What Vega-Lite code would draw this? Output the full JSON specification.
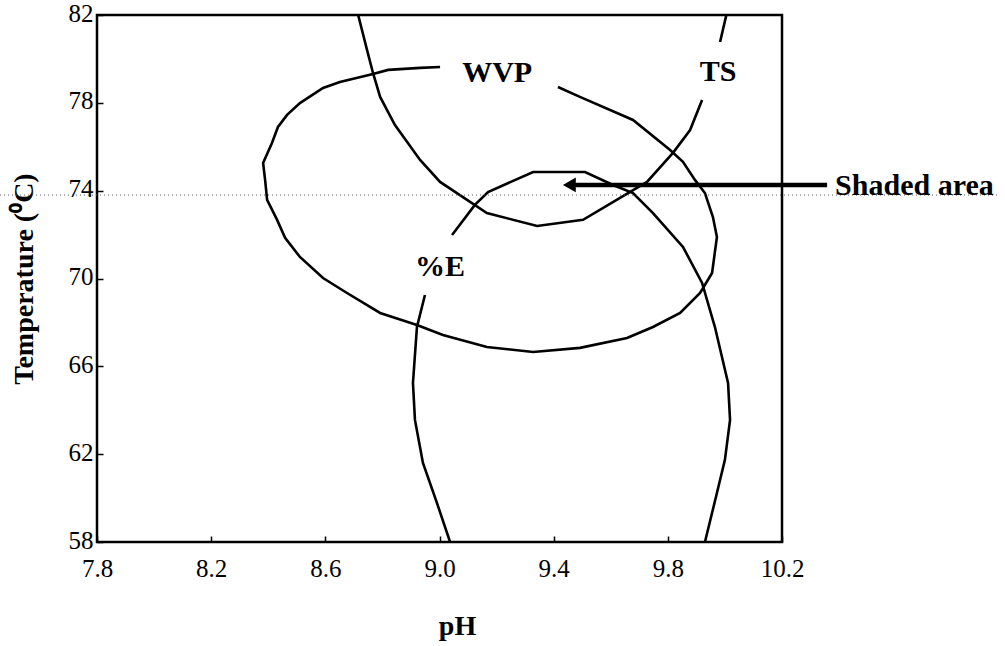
{
  "$schema": "https://vega.github.io/schema/vega-lite/v6.json",
  "width": 685,
  "height": 527,
  "autosize": "none",
  "padding": {"left": 97, "top": 15, "right": 223, "bottom": 104},
  "background": "white",
  "config": {
    "view": {"stroke": "black", "strokeWidth": 2.5},
    "font": "Liberation Serif"
  },
  "datasets": {
    "curves": [
      {"curve": "WVP", "seg": "WVP", "ord": 1, "pH": 9.002, "T": 79.63},
      {"curve": "WVP", "seg": "WVP", "ord": 2, "pH": 8.932, "T": 79.59},
      {"curve": "WVP", "seg": "WVP", "ord": 3, "pH": 8.82, "T": 79.5},
      {"curve": "WVP", "seg": "WVP", "ord": 4, "pH": 8.767, "T": 79.31},
      {"curve": "WVP", "seg": "WVP", "ord": 5, "pH": 8.651, "T": 78.95},
      {"curve": "WVP", "seg": "WVP", "ord": 6, "pH": 8.592, "T": 78.68},
      {"curve": "WVP", "seg": "WVP", "ord": 7, "pH": 8.511, "T": 77.99},
      {"curve": "WVP", "seg": "WVP", "ord": 8, "pH": 8.466, "T": 77.45},
      {"curve": "WVP", "seg": "WVP", "ord": 9, "pH": 8.434, "T": 76.9},
      {"curve": "WVP", "seg": "WVP", "ord": 10, "pH": 8.413, "T": 76.17},
      {"curve": "WVP", "seg": "WVP", "ord": 11, "pH": 8.382, "T": 75.26},
      {"curve": "WVP", "seg": "WVP", "ord": 12, "pH": 8.389, "T": 74.49},
      {"curve": "WVP", "seg": "WVP", "ord": 13, "pH": 8.396, "T": 73.58},
      {"curve": "WVP", "seg": "WVP", "ord": 14, "pH": 8.431, "T": 72.67},
      {"curve": "WVP", "seg": "WVP", "ord": 15, "pH": 8.459, "T": 71.85},
      {"curve": "WVP", "seg": "WVP", "ord": 16, "pH": 8.511, "T": 70.98},
      {"curve": "WVP", "seg": "WVP", "ord": 17, "pH": 8.592, "T": 70.02},
      {"curve": "WVP", "seg": "WVP", "ord": 18, "pH": 8.676, "T": 69.34},
      {"curve": "WVP", "seg": "WVP", "ord": 19, "pH": 8.792, "T": 68.43},
      {"curve": "WVP", "seg": "WVP", "ord": 20, "pH": 8.921, "T": 67.88},
      {"curve": "WVP", "seg": "WVP", "ord": 21, "pH": 9.012, "T": 67.43},
      {"curve": "WVP", "seg": "WVP", "ord": 22, "pH": 9.166, "T": 66.88},
      {"curve": "WVP", "seg": "WVP", "ord": 23, "pH": 9.328, "T": 66.65},
      {"curve": "WVP", "seg": "WVP", "ord": 24, "pH": 9.492, "T": 66.84},
      {"curve": "WVP", "seg": "WVP", "ord": 25, "pH": 9.657, "T": 67.29},
      {"curve": "WVP", "seg": "WVP", "ord": 26, "pH": 9.748, "T": 67.79},
      {"curve": "WVP", "seg": "WVP", "ord": 27, "pH": 9.843, "T": 68.43},
      {"curve": "WVP", "seg": "WVP", "ord": 28, "pH": 9.913, "T": 69.34},
      {"curve": "WVP", "seg": "WVP", "ord": 29, "pH": 9.955, "T": 70.25},
      {"curve": "WVP", "seg": "WVP", "ord": 30, "pH": 9.972, "T": 71.89},
      {"curve": "WVP", "seg": "WVP", "ord": 31, "pH": 9.958, "T": 72.8},
      {"curve": "WVP", "seg": "WVP", "ord": 32, "pH": 9.93, "T": 73.89},
      {"curve": "WVP", "seg": "WVP", "ord": 33, "pH": 9.895, "T": 74.49},
      {"curve": "WVP", "seg": "WVP", "ord": 34, "pH": 9.853, "T": 75.31},
      {"curve": "WVP", "seg": "WVP", "ord": 35, "pH": 9.808, "T": 75.85},
      {"curve": "WVP", "seg": "WVP", "ord": 36, "pH": 9.678, "T": 77.22},
      {"curve": "WVP", "seg": "WVP", "ord": 37, "pH": 9.492, "T": 78.27},
      {"curve": "WVP", "seg": "WVP", "ord": 38, "pH": 9.415, "T": 78.72},
      {"curve": "TS", "seg": "TS1", "ord": 1, "pH": 8.715, "T": 82.0},
      {"curve": "TS", "seg": "TS1", "ord": 2, "pH": 8.746, "T": 80.41},
      {"curve": "TS", "seg": "TS1", "ord": 3, "pH": 8.767, "T": 79.36},
      {"curve": "TS", "seg": "TS1", "ord": 4, "pH": 8.792, "T": 78.27},
      {"curve": "TS", "seg": "TS1", "ord": 5, "pH": 8.844, "T": 76.99},
      {"curve": "TS", "seg": "TS1", "ord": 6, "pH": 8.932, "T": 75.4},
      {"curve": "TS", "seg": "TS1", "ord": 7, "pH": 9.002, "T": 74.4},
      {"curve": "TS", "seg": "TS1", "ord": 8, "pH": 9.166, "T": 72.98},
      {"curve": "TS", "seg": "TS1", "ord": 9, "pH": 9.342, "T": 72.39},
      {"curve": "TS", "seg": "TS1", "ord": 10, "pH": 9.503, "T": 72.67},
      {"curve": "TS", "seg": "TS1", "ord": 11, "pH": 9.668, "T": 73.94},
      {"curve": "TS", "seg": "TS1", "ord": 12, "pH": 9.727, "T": 74.4},
      {"curve": "TS", "seg": "TS1", "ord": 13, "pH": 9.818, "T": 75.72},
      {"curve": "TS", "seg": "TS1", "ord": 14, "pH": 9.878, "T": 76.76},
      {"curve": "TS", "seg": "TS1", "ord": 15, "pH": 9.92, "T": 78.13},
      {"curve": "TS", "seg": "TS2", "ord": 1, "pH": 9.983, "T": 80.77},
      {"curve": "TS", "seg": "TS2", "ord": 2, "pH": 10.005, "T": 82.0},
      {"curve": "%E", "seg": "E1", "ord": 1, "pH": 9.037, "T": 58.0},
      {"curve": "%E", "seg": "E1", "ord": 2, "pH": 8.991, "T": 59.78},
      {"curve": "%E", "seg": "E1", "ord": 3, "pH": 8.942, "T": 61.6},
      {"curve": "%E", "seg": "E1", "ord": 4, "pH": 8.914, "T": 63.56},
      {"curve": "%E", "seg": "E1", "ord": 5, "pH": 8.907, "T": 65.24},
      {"curve": "%E", "seg": "E1", "ord": 6, "pH": 8.921, "T": 67.79},
      {"curve": "%E", "seg": "E1", "ord": 7, "pH": 8.949, "T": 69.25},
      {"curve": "%E", "seg": "E2", "ord": 1, "pH": 9.044, "T": 71.98},
      {"curve": "%E", "seg": "E2", "ord": 2, "pH": 9.124, "T": 73.35},
      {"curve": "%E", "seg": "E2", "ord": 3, "pH": 9.17, "T": 73.94},
      {"curve": "%E", "seg": "E2", "ord": 4, "pH": 9.328, "T": 74.85},
      {"curve": "%E", "seg": "E2", "ord": 5, "pH": 9.51, "T": 74.85},
      {"curve": "%E", "seg": "E2", "ord": 6, "pH": 9.608, "T": 74.26},
      {"curve": "%E", "seg": "E2", "ord": 7, "pH": 9.678, "T": 73.89},
      {"curve": "%E", "seg": "E2", "ord": 8, "pH": 9.748, "T": 72.98},
      {"curve": "%E", "seg": "E2", "ord": 9, "pH": 9.853, "T": 71.44},
      {"curve": "%E", "seg": "E2", "ord": 10, "pH": 9.92, "T": 69.8},
      {"curve": "%E", "seg": "E2", "ord": 11, "pH": 9.965, "T": 67.79},
      {"curve": "%E", "seg": "E2", "ord": 12, "pH": 10.011, "T": 65.24},
      {"curve": "%E", "seg": "E2", "ord": 13, "pH": 10.018, "T": 63.56},
      {"curve": "%E", "seg": "E2", "ord": 14, "pH": 10.0, "T": 61.74},
      {"curve": "%E", "seg": "E2", "ord": 15, "pH": 9.972, "T": 60.23},
      {"curve": "%E", "seg": "E2", "ord": 16, "pH": 9.93, "T": 58.0}
    ],
    "labels": [
      {"label": "WVP", "pH": 9.202, "T": 79.36},
      {"label": "TS", "pH": 9.976, "T": 79.4},
      {"label": "%E", "pH": 9.002, "T": 70.52}
    ],
    "refline": [{"pH": 7.46, "pH2": 10.96, "T": 73.8}],
    "arrow": [{"pH": 9.47, "pH2": 10.358, "T": 74.26, "note": "Shaded area"}],
    "head": [{"pH": 9.455, "T": 74.26}]
  },
  "layer": [
    {
      "data": {"name": "curves"},
      "mark": {"type": "line", "color": "black", "strokeWidth": 2.6, "clip": true},
      "encoding": {
        "x": {
          "field": "pH", "type": "quantitative",
          "scale": {"domain": [7.8, 10.2], "nice": false, "zero": false},
          "axis": {
            "values": [7.8, 8.2, 8.6, 9.0, 9.4, 9.8, 10.2],
            "format": ".1f",
            "labelFont": "Liberation Serif",
            "labelFontSize": 25,
            "labelColor": "black",
            "labelPadding": 20,
            "labelFlush": false,
            "labelOverlap": false,
            "tickSize": -6,
            "tickWidth": 1.5,
            "tickColor": "black",
            "domain": false,
            "grid": false,
            "title": "pH",
            "titleFont": "Liberation Serif",
            "titleFontSize": 28,
            "titleFontWeight": "bold",
            "titleColor": "black",
            "titlePadding": 31,
            "titleX": 360
          }
        },
        "y": {
          "field": "T", "type": "quantitative",
          "scale": {"domain": [58, 82], "nice": false, "zero": false},
          "axis": {
            "values": [58, 62, 66, 70, 74, 78, 82],
            "labelFont": "Liberation Serif",
            "labelFontSize": 25,
            "labelColor": "black",
            "labelPadding": 10,
            "labelOffset": -2,
            "labelFlush": false,
            "labelOverlap": false,
            "tickSize": -6,
            "tickWidth": 1.5,
            "tickColor": "black",
            "domain": false,
            "grid": false,
            "title": "Temperature (⁰C)",
            "titleFont": "Liberation Serif",
            "titleFontSize": 28,
            "titleFontWeight": "bold",
            "titleColor": "black",
            "titlePadding": 30
          }
        },
        "detail": {"field": "seg"},
        "order": {"field": "ord", "type": "quantitative"}
      }
    },
    {
      "data": {"name": "refline"},
      "mark": {"type": "rule", "color": "#555555", "strokeWidth": 1, "strokeDash": [1, 3], "clip": false},
      "encoding": {
        "x": {"field": "pH", "type": "quantitative"},
        "x2": {"field": "pH2"},
        "y": {"field": "T", "type": "quantitative"}
      }
    },
    {
      "data": {"name": "labels"},
      "mark": {"type": "text", "font": "Liberation Serif", "fontWeight": "bold", "fontSize": 30, "color": "black"},
      "encoding": {
        "x": {"field": "pH", "type": "quantitative"},
        "y": {"field": "T", "type": "quantitative"},
        "text": {"field": "label"}
      }
    },
    {
      "data": {"name": "arrow"},
      "mark": {"type": "rule", "color": "black", "strokeWidth": 4.5, "clip": false},
      "encoding": {
        "x": {"field": "pH", "type": "quantitative"},
        "x2": {"field": "pH2"},
        "y": {"field": "T", "type": "quantitative"}
      }
    },
    {
      "data": {"name": "head"},
      "mark": {"type": "point", "shape": "triangle-left", "filled": true, "color": "black", "opacity": 1, "size": 220},
      "encoding": {
        "x": {"field": "pH", "type": "quantitative"},
        "y": {"field": "T", "type": "quantitative"}
      }
    },
    {
      "data": {"name": "arrow"},
      "mark": {"type": "text", "font": "Liberation Serif", "fontWeight": "bold", "fontSize": 30, "color": "black", "align": "left", "dx": 8, "dy": 1},
      "encoding": {
        "x": {"field": "pH2", "type": "quantitative"},
        "y": {"field": "T", "type": "quantitative"},
        "text": {"field": "note"}
      }
    }
  ]
}
